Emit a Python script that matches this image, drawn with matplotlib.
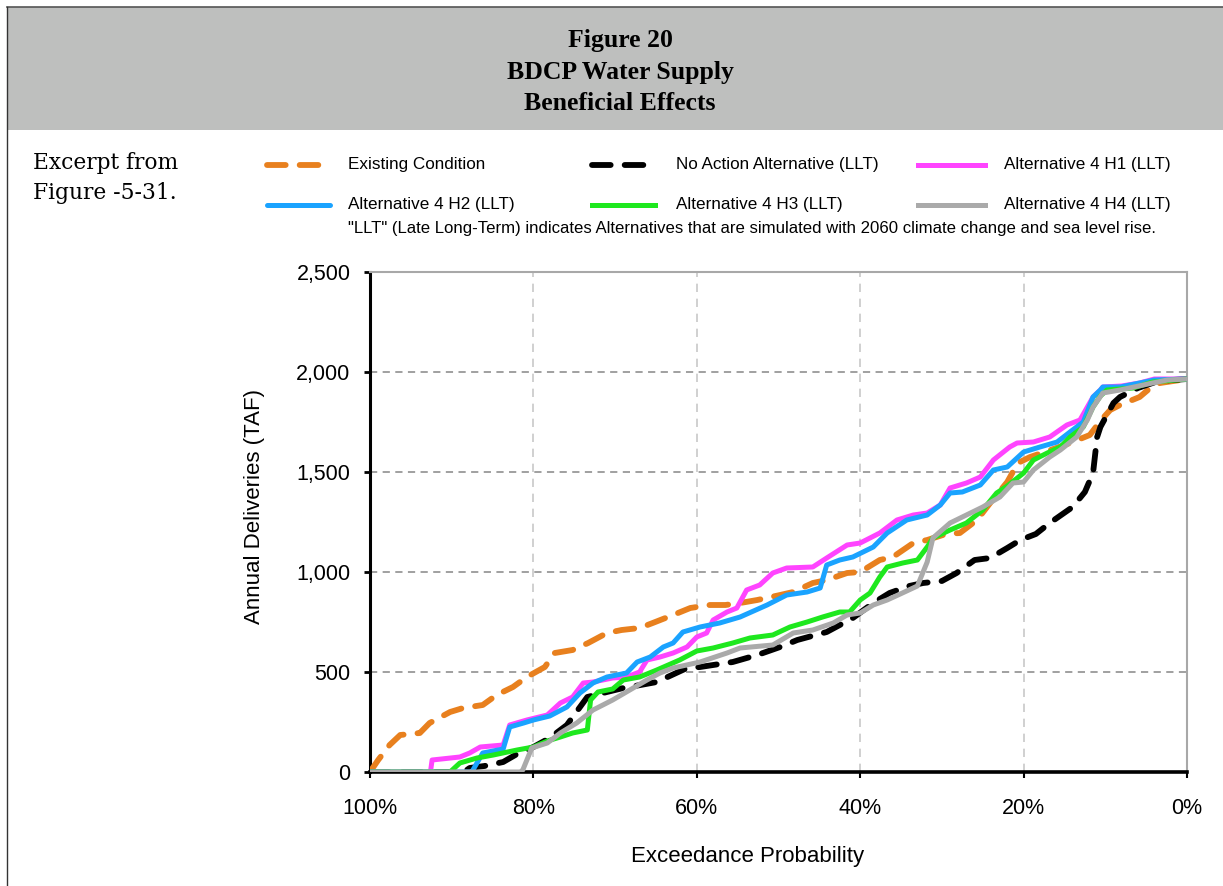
import matplotlib
matplotlib.use("Agg")
import matplotlib.pyplot as plt
from matplotlib.lines import Line2D
from matplotlib.patches import Rectangle
from matplotlib.ticker import FuncFormatter

# ---------------- data ----------------
title_lines = ["Figure 20", "BDCP Water Supply", "Beneficial Effects"]
excerpt_lines = ["Excerpt from", "Figure -5-31."]
series_labels = ["Existing Condition", "No Action Alternative (LLT)", "Alternative 4 H1 (LLT)",
                 "Alternative 4 H2 (LLT)", "Alternative 4 H3 (LLT)", "Alternative 4 H4 (LLT)"]
note_text = '"LLT" (Late Long-Term) indicates Alternatives that are simulated with 2060 climate change and sea level rise.'
y_ticks = [0, 500, 1000, 1500, 2000, 2500]
x_ticks = [100, 80, 60, 40, 20, 0]

ex_x = [100, 99, 97.6, 96.3, 93.9, 92.7, 90.2, 88.6, 86.2, 84.5, 82.5, 80.8, 78.6, 77.4, 75.2, 73.3, 71, 69.2,
        67, 65.4, 62.9, 60.8, 58.4, 56.5, 54.7, 52.6, 49.8, 48.2, 45.8, 44.1, 41.6, 40, 37.6, 36, 33.5, 31.8,
        29.5, 27.8, 25.7, 24, 22, 20.7, 19.2, 16, 14, 12.5, 11.9, 10.5, 9.4, 8.2, 5.8, 4.5, 3.3, 0]
ex_y = [0, 60, 135, 185, 195, 245, 300, 320, 335, 385, 425, 475, 525, 595, 610, 645, 695, 710,
        720, 745, 785, 820, 835, 835, 845, 860, 885, 900, 945, 960, 995, 1000, 1060, 1075, 1145, 1160,
        1190, 1195, 1260, 1350, 1450, 1545, 1575, 1620, 1650, 1675, 1685, 1760, 1810, 1835, 1875, 1920, 1945, 1965]

na_x = [100, 88.5, 87.8, 86, 83.7, 82, 80, 78, 75.9, 73.4, 71, 69, 66.9, 64.9, 61.2, 59.6, 55.6, 52.6, 49.8,
        47.7, 44.1, 40.9, 38.4, 36.4, 34, 32.3, 30, 28.2, 26, 24.1, 22, 20.4, 18.5, 16.8, 14, 12.5, 11.5, 11,
        10.6, 9, 8.2, 6, 3.5, 0]
na_y = [0, 0, 20, 30, 50, 90, 125, 170, 235, 375, 400, 420, 435, 450, 520, 525, 550, 585, 625,
        660, 700, 770, 845, 895, 930, 945, 955, 995, 1060, 1070, 1120, 1160, 1190, 1245, 1325, 1400, 1495, 1675,
        1725, 1845, 1875, 1920, 1955, 1965]

h1_x = [100, 92.6, 92.4, 89, 87.8, 86.5, 83.7, 82.9, 80.8, 78.3, 76.7, 75.2, 73.9, 72.7, 70.3, 68.6, 67, 66.1,
        64.5, 62.9, 61.2, 60, 58.8, 58, 56.3, 55.1, 53.9, 52.3, 50.7, 49, 45.8, 44.1, 41.6, 40, 37.6, 35.5,
        33.5, 31.8, 30.2, 29, 27, 25.3, 23.7, 21.7, 20.8, 18.8, 16.8, 14.7, 13.1, 11.5, 10.6, 10.3, 8, 5.8, 4, 0]
h1_y = [0, 0, 60, 75, 95, 125, 135, 235, 260, 285, 345, 375, 445, 450, 470, 475, 500, 560,
        575, 595, 625, 675, 695, 760, 800, 820, 910, 935, 995, 1020, 1025, 1070, 1135, 1145, 1195, 1260,
        1285, 1295, 1335, 1420, 1445, 1475, 1560, 1625, 1645, 1650, 1675, 1735, 1760, 1875, 1910, 1925, 1930, 1945, 1965, 1965]

h2_x = [100, 87.6, 87.4, 86.2, 83.7, 82.9, 81.2, 80, 78, 75.9, 74.3, 72.7, 71, 68.6, 67.3, 65.7, 64.1, 62.9,
        61.7, 59.6, 57.2, 54.7, 51.4, 49, 46.5, 44.9, 44.1, 42.5, 40.9, 38.4, 36.7, 34.3, 31.8, 30.2, 29, 27.5,
        25.3, 23.7, 22, 20, 18, 15.9, 14, 12.7, 11.5, 10.6, 10.3, 8.2, 4, 0]
h2_y = [0, 0, 10, 95, 115, 225, 245, 260, 280, 325, 395, 445, 475, 495, 550, 575, 625, 645,
        700, 725, 745, 775, 835, 885, 900, 920, 1035, 1060, 1075, 1125, 1195, 1260, 1285, 1335, 1395, 1400,
        1435, 1510, 1525, 1600, 1625, 1650, 1710, 1750, 1875, 1910, 1925, 1925, 1960, 1965]

h3_x = [100, 90.2, 89, 86.9, 84.9, 82, 80, 78.3, 76.7, 75.2, 73.4, 73, 72.1, 70.3, 69, 67, 64.9, 62.1, 60,
        58, 55.6, 53.5, 50.7, 48.6, 46.5, 44.6, 42.5, 41.3, 40, 38.8, 37.6, 36.7, 34.8, 33, 31.8, 31.1, 29,
        27, 25, 23.3, 22, 20, 18.8, 17.1, 15.5, 14.3, 12.7, 11.5, 10.6, 9.8, 6.6, 4.2, 0]
h3_y = [0, 0, 45, 70, 85, 110, 125, 155, 175, 195, 210, 360, 400, 415, 460, 475, 510, 560, 605,
        620, 645, 670, 685, 725, 750, 775, 800, 800, 860, 895, 975, 1025, 1045, 1060, 1125, 1170, 1210,
        1245, 1310, 1395, 1430, 1495, 1560, 1595, 1625, 1675, 1725, 1825, 1880, 1910, 1920, 1950, 1965]

h4_x = [100, 81.6, 81.3, 80.2, 78.3, 76.7, 74.7, 72.7, 70.3, 68.2, 66.1, 64.5, 62.9, 59.6, 56.3, 54.7, 50.7,
        48.2, 45.8, 43.3, 41.6, 40, 38.4, 36.7, 35.1, 33, 31.8, 31.1, 29, 27, 25, 22.9, 21.3, 20, 18.8, 16.8,
        15.5, 13.5, 12.2, 11.5, 10.3, 8.2, 4.2, 2.4, 0]
h4_y = [0, 0, 10, 120, 145, 195, 245, 310, 360, 410, 460, 495, 520, 550, 595, 620, 635,
        695, 710, 745, 785, 795, 835, 860, 890, 930, 1050, 1170, 1245, 1285, 1325, 1375, 1445, 1450, 1510, 1575,
        1610, 1675, 1760, 1825, 1895, 1910, 1945, 1960, 1965]

# ---------------- styles ----------------
c_orange = "#E8801E"
c_black = "#000000"
c_mag = "#FF44FF"
c_blue = "#1AA3FF"
c_green = "#1EE81E"
c_gray = "#AAAAAA"

W, H = 1223, 886
fig = plt.figure(figsize=(W / 100, H / 100), dpi=100)
fig.patch.set_facecolor("white")


def fx(px):
    return px / W


def fy(py):
    return 1 - py / H


# header band and borders
fig.add_artist(Rectangle((fx(7), fy(130)), fx(W - 7), fy(7) - fy(130), transform=fig.transFigure,
                         facecolor="#BEBFBE", edgecolor="none", zorder=0))
fig.add_artist(Line2D([fx(7), fx(W)], [fy(7), fy(7)], color="#555555", lw=1.2, transform=fig.transFigure))
fig.add_artist(Line2D([fx(7), fx(7)], [fy(7), fy(H)], color="#333333", lw=1.0, transform=fig.transFigure))

for i, t in enumerate(title_lines):
    fig.text(fx(620), fy(41 + 31 * i), t, ha="center", va="center", fontsize=18.5,
             fontweight="bold", family="Liberation Serif")

for i, t in enumerate(excerpt_lines):
    fig.text(fx(33), fy(163 + 30 * i), t, ha="left", va="center", fontsize=15.7, family="DejaVu Serif")

# ---------------- axes ----------------
ax = fig.add_axes([fx(370), fy(772), fx(1187) - fx(370), fy(272) - fy(772)])
ax.set_xlim(100, 0)
ax.set_ylim(0, 2500)

ax.plot(ex_x, ex_y, color=c_orange, lw=4.2, dashes=(3.2, 2.4), dash_capstyle="round", zorder=3)
ax.plot(na_x, na_y, color=c_black, lw=4.2, dashes=(3.2, 2.4), dash_capstyle="round", zorder=3)
ax.plot(h1_x, h1_y, color=c_mag, lw=3.6, zorder=4)
ax.plot(h2_x, h2_y, color=c_blue, lw=3.6, zorder=5)
ax.plot(h3_x, h3_y, color=c_green, lw=3.6, zorder=6)
ax.plot(h4_x, h4_y, color=c_gray, lw=3.6, zorder=7)

ax.set_yticks(y_ticks)
ax.yaxis.set_major_formatter(FuncFormatter(lambda v, p: f"{int(v):,}"))
ax.set_xticks(x_ticks)
ax.set_xticklabels([f"{v}%" for v in x_ticks])

for yv in y_ticks[1:-1]:
    ax.axhline(yv, color="#999999", lw=1.3, dashes=(4, 3), zorder=1)
for xv in x_ticks[1:-1]:
    ax.axvline(xv, color="#C8C8C8", lw=1.2, dashes=(5, 4), zorder=1)

for s in ["top", "right"]:
    ax.spines[s].set_color("#A8A8A8")
    ax.spines[s].set_linewidth(1.5)
ax.spines["left"].set_color("black")
ax.spines["left"].set_linewidth(2.2)
ax.spines["bottom"].set_color("black")
ax.spines["bottom"].set_linewidth(2.6)

ax.tick_params(axis="y", direction="out", length=4, width=2, pad=10, labelsize=15.5)
ax.tick_params(axis="x", direction="out", length=4, width=1.5, pad=15, labelsize=15.5)
for lab in ax.get_xticklabels() + ax.get_yticklabels():
    lab.set_family("Liberation Sans")

ax.set_ylabel("Annual Deliveries (TAF)", fontsize=16, family="Liberation Sans")
ax.set_xlabel("Exceedance Probability", fontsize=16, family="Liberation Sans")
ax.xaxis.set_label_coords((748 - 370) / 817, (772 - 846) / 500)
ax.yaxis.set_label_coords((265 - 370) / 817, (772 - 507) / 500)

# ---------------- legend (manual) ----------------
leg_styles = [
    dict(color=c_orange, lw=4.2, dashes=(3.2, 2.4), dash_capstyle="round"),
    dict(color=c_black, lw=4.2, dashes=(3.2, 2.4), dash_capstyle="round"),
    dict(color=c_mag, lw=3.6),
    dict(color=c_blue, lw=3.6, solid_capstyle="round"),
    dict(color=c_green, lw=3.6),
    dict(color=c_gray, lw=3.6),
]
col_x = [(267, 330, 348), (592, 655, 676), (918, 985, 1004)]
row_y = [165, 205]
for k, lab in enumerate(series_labels):
    r, c = divmod(k, 3)
    x0, x1, xt = col_x[c]
    yy = row_y[r]
    fig.add_artist(Line2D([fx(x0), fx(x1)], [fy(yy), fy(yy)], transform=fig.transFigure, **leg_styles[k]))
    fig.text(fx(xt), fy(yy), lab, ha="left", va="center", fontsize=12.3, family="Liberation Sans")

fig.text(fx(348), fy(229), note_text, ha="left", va="center", fontsize=12.1, family="Liberation Sans")

fig.savefig("out.png", dpi=100)
